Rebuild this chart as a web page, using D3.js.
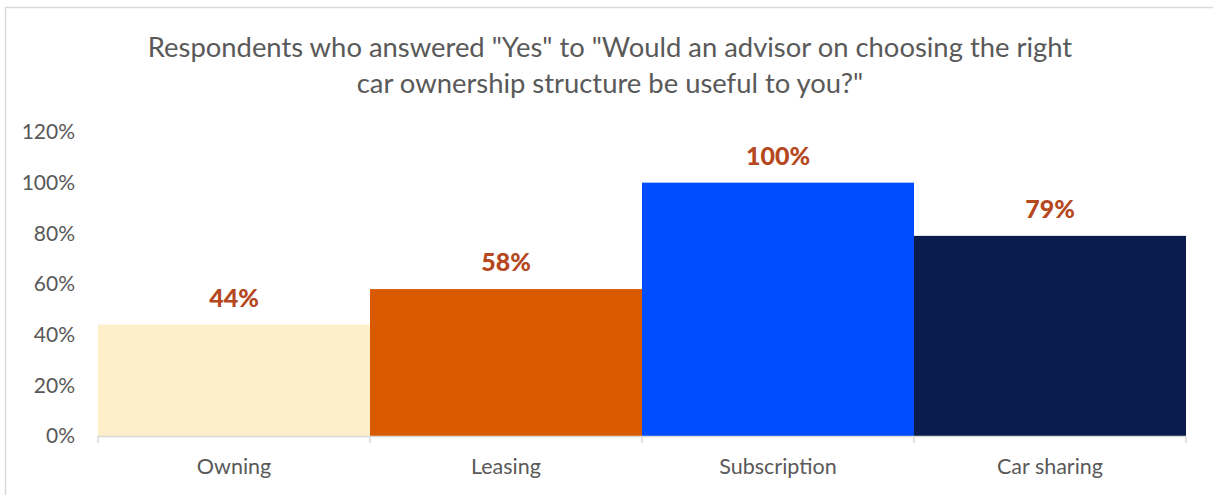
<!DOCTYPE html>
<html>
<head>
<meta charset="utf-8">
<script src="https://cdn.jsdelivr.net/npm/d3@7"></script>
<style>
  html, body { margin: 0; padding: 0; background: #ffffff; }
  svg { display: block; font-family: Lato, "Open Sans", sans-serif; }
</style>
</head>
<body>
<svg id="chart" width="1213" height="495"></svg>
<script>
// Survey results: share answering "Yes" per ownership structure
const categories = ["Owning", "Leasing", "Subscription", "Car sharing"];
const values = [44, 58, 100, 79];
const barColors = ["#FCEFC9", "#D95A00", "#004CFF", "#0A1C4E"];
const yTicks = [0, 20, 40, 60, 80, 100, 120];
const titleLines = [
  "Respondents who answered \"Yes\" to \"Would an advisor on choosing the right",
  "car ownership structure be useful to you?\""
];

const svg = d3.select("#chart");
const W = 1213, H = 495;
const margin = { left: 98, right: 27, top: 132, bottom: 59 };

// chart frame
svg.append("rect")
  .attr("x", 5.5).attr("y", 7.5)
  .attr("width", W + 20).attr("height", H + 20)
  .attr("fill", "none").attr("stroke", "#d9d9d9").attr("stroke-width", 1.5);

const x = d3.scaleBand()
  .domain(categories)
  .range([margin.left, W - margin.right])
  .paddingInner(0).paddingOuter(0);

const y = d3.scaleLinear()
  .domain([0, 120])
  .range([H - margin.bottom, margin.top]);

// title
svg.append("text")
  .attr("text-anchor", "middle")
  .attr("fill", "#595959")
  .style("font-size", "27.4px")
  .selectAll("tspan")
  .data(titleLines)
  .join("tspan")
  .attr("x", 610)
  .attr("y", (d, i) => 57 + i * 36)
  .text(d => d);

// y axis labels (no axis line)
const yAxis = d3.axisLeft(y)
  .tickValues(yTicks)
  .tickFormat(d => d + "%")
  .tickSize(0)
  .tickPadding(0);
const yg = svg.append("g")
  .attr("transform", `translate(75,0)`)
  .call(yAxis);
yg.select(".domain").remove();
yg.selectAll("text")
  .attr("fill", "#595959")
  .style("font-size", "21px")
  .style("font-family", "Lato, sans-serif");

// bars
svg.append("g")
  .selectAll("rect")
  .data(values)
  .join("rect")
  .attr("x", (d, i) => x(categories[i]))
  .attr("y", d => y(d))
  .attr("width", x.bandwidth())
  .attr("height", d => y(0) - y(d))
  .attr("fill", (d, i) => barColors[i]);

// value labels
svg.append("g")
  .selectAll("text")
  .data(values)
  .join("text")
  .attr("x", (d, i) => x(categories[i]) + x.bandwidth() / 2)
  .attr("y", d => y(d) - 18)
  .attr("text-anchor", "middle")
  .attr("fill", "#B5481E")
  .style("font-size", "25px")
  .style("font-weight", "900")
  .text(d => d + "%");

// category axis with ticks at band boundaries
const baseY = y(0);
svg.append("line")
  .attr("x1", margin.left).attr("x2", W - margin.right)
  .attr("y1", baseY + 0.5).attr("y2", baseY + 0.5)
  .attr("stroke", "#d9d9d9").attr("stroke-width", 1.5);

const bounds = categories.map(c => x(c)).concat([x(categories[categories.length - 1]) + x.bandwidth()]);
svg.append("g")
  .selectAll("line")
  .data(bounds)
  .join("line")
  .attr("x1", d => d).attr("x2", d => d)
  .attr("y1", baseY).attr("y2", baseY + 7)
  .attr("stroke", "#d9d9d9").attr("stroke-width", 1.5);

svg.append("g")
  .selectAll("text")
  .data(categories)
  .join("text")
  .attr("x", d => x(d) + x.bandwidth() / 2)
  .attr("y", baseY + 38)
  .attr("text-anchor", "middle")
  .attr("fill", "#595959")
  .style("font-size", "21.5px")
  .text(d => d);
</script>
</body>
</html>
